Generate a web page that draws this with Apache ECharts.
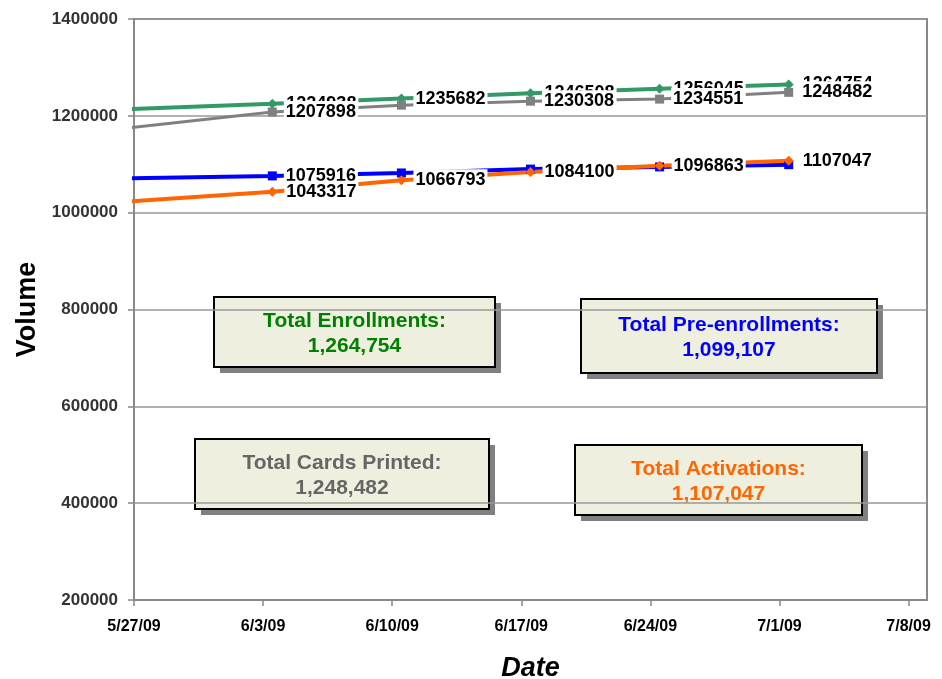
<!DOCTYPE html>
<html>
<head>
<meta charset="utf-8">
<title>Volume by Date</title>
<script src="https://cdn.jsdelivr.net/npm/echarts@6/dist/echarts.min.js"></script>
<style>
  html, body { margin: 0; padding: 0; background: #fff; }
  #main { width: 942px; height: 679px; }
</style>
</head>
<body>
<div id="main"></div>
<script>
// weekly report dates (the 5/20 point is left of the axis, only its line shows)
const dates = ['5/20/09', '6/3/09', '6/10/09', '6/17/09', '6/24/09', '7/1/09'];

const enrollments    = [1204700, 1224938, 1235682, 1246508, 1256045, 1264754];
const cardsPrinted   = [1148900, 1207898, 1222000, 1230308, 1234551, 1248482];
const preEnrollments = [1066700, 1075916, 1082000, 1090000, 1094500, 1099107];
const activations    = [1007400, 1043317, 1066793, 1084100, 1096863, 1107047];

const xTicks = ['5/27/09', '6/3/09', '6/10/09', '6/17/09', '6/24/09', '7/1/09', '7/8/09'];
const yTicks = [200000, 400000, 600000, 800000, 1000000, 1200000, 1400000];

const DAY = 86400000;
const parseDate = (s) => {
  const p = s.split('/');
  return Date.UTC(2000 + (+p[2]), +p[0] - 1, +p[1]);
};
const t0 = parseDate(xTicks[0]);
const dayOf = (s) => (parseDate(s) - t0) / DAY;
const fmtDay = (d) => {
  const dt = new Date(t0 + d * DAY);
  return (dt.getUTCMonth() + 1) + '/' + dt.getUTCDate() + '/' + String(dt.getUTCFullYear()).slice(2);
};

const font = "'Liberation Sans', Arial, sans-serif";

// excel date axis: each point sits in the middle of its day
const makeData = (vals, hide) =>
  vals.map((v, i) => ({
    value: [dayOf(dates[i]) + 0.5, v],
    label: { show: i > 0 && !(hide || []).includes(i) },
  }));

const mkSeries = (name, vals, color, symbol, size, width, hide) => ({
  name: name,
  type: 'line',
  data: makeData(vals, hide),
  symbol: symbol,
  symbolSize: size,
  showAllSymbol: true,
  clip: true,
  lineStyle: { color: color, width: width },
  itemStyle: { color: color },
  label: {
    show: true,
    position: 'right',
    distance: 7,
    formatter: (p) => String(p.value[1]),
    color: '#000',
    fontFamily: font,
    fontWeight: 'bold',
    fontSize: 18,
    backgroundColor: '#fff',
    padding: [2, 2],
    lineHeight: 18,
  },
  emphasis: { disabled: true },
  animation: false,
});

const fmtNum = (v) => v.toLocaleString('en-US');
const last = (a) => a[a.length - 1];

const box = (x, y, w, h, color, title, value) => ({
  type: 'group',
  left: x,
  top: y,
  children: [
    { type: 'rect', shape: { x: 6, y: 6, width: w, height: h }, style: { fill: '#808080' } },
    { type: 'rect', shape: { x: 0, y: 0, width: w, height: h },
      style: { fill: '#EFEFE0', stroke: '#000', lineWidth: 2 } },
    { type: 'text', x: w / 2, y: h / 2 - 11,
      style: { text: title, fill: color, font: 'bold 21px ' + font, textAlign: 'center', textVerticalAlign: 'middle' } },
    { type: 'text', x: w / 2, y: h / 2 + 14,
      style: { text: value, fill: color, font: 'bold 21px ' + font, textAlign: 'center', textVerticalAlign: 'middle' } },
  ],
});

const chart = echarts.init(document.getElementById('main'));

const options = {
  backgroundColor: '#fff',
  animation: false,
  grid: { left: 134, right: 15, top: 19, bottom: 79, show: true, borderColor: '#888', borderWidth: 2, outerBoundsMode: 'none' },
  xAxis: {
    type: 'value',
    min: 0,
    max: dayOf(last(xTicks)) + 1,
    name: 'Date',
    nameLocation: 'middle',
    nameGap: 55,
    nameTextStyle: { fontFamily: font, fontWeight: 'bold', fontStyle: 'italic', fontSize: 27, color: '#000' },
    axisLine: { lineStyle: { color: '#888', width: 2 } },
    axisTick: { show: true, length: 6, lineStyle: { color: '#888', width: 1.5 }, customValues: xTicks.map(dayOf) },
    axisLabel: {
      customValues: xTicks.map(dayOf),
      formatter: (v) => fmtDay(v),
      margin: 19,
      color: '#000',
      fontFamily: font,
      fontWeight: 'bold',
      fontSize: 16,
    },
    splitLine: { show: false },
  },
  yAxis: {
    type: 'value',
    min: yTicks[0],
    max: last(yTicks),
    interval: yTicks[1] - yTicks[0],
    name: 'Volume',
    nameLocation: 'middle',
    nameRotate: 90,
    nameGap: 93,
    nameTextStyle: { fontFamily: font, fontWeight: 'bold', fontSize: 27, color: '#000' },
    axisLine: { show: true, lineStyle: { color: '#888', width: 2 } },
    axisTick: { show: true, length: 6, lineStyle: { color: '#888', width: 1.5 } },
    axisLabel: {
      formatter: (v) => String(v),
      margin: 16,
      color: '#333',
      fontFamily: font,
      fontWeight: 'bold',
      fontSize: 17,
    },
    splitLine: { show: true, lineStyle: { color: '#999', width: 1.5 } },
  },
  series: [
    mkSeries('Enrollments', enrollments, '#339966', 'diamond', 10, 4),
    mkSeries('Cards Printed', cardsPrinted, '#808080', 'rect', 9, 3, [2]),
    mkSeries('Pre-enrollments', preEnrollments, '#0000FF', 'rect', 9, 4, [2, 3, 4, 5]),
    mkSeries('Activations', activations, '#FF6600', 'diamond', 10, 4),
  ],
  graphic: [
    box(213, 296, 281, 70, '#008000', 'Total Enrollments:', fmtNum(last(enrollments))),
    box(580, 298, 296, 74, '#0000FF', 'Total Pre-enrollments:', fmtNum(last(preEnrollments))),
    box(194, 438, 294, 70, '#666666', 'Total Cards Printed:', fmtNum(last(cardsPrinted))),
    box(574, 444, 287, 70, '#FF6600', 'Total Activations:', fmtNum(last(activations))),
  ],
};

chart.setOption(options);
</script>
</body>
</html>
